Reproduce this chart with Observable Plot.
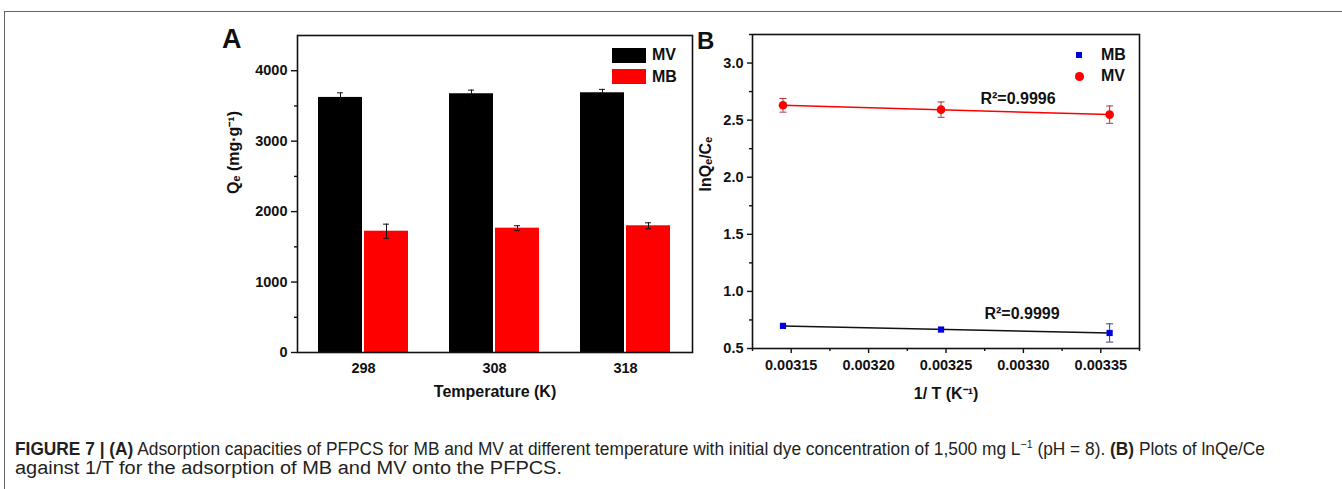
<!DOCTYPE html>
<html>
<head>
<meta charset="utf-8">
<script src="https://cdn.jsdelivr.net/npm/d3@7"></script>
<script src="https://cdn.jsdelivr.net/npm/@observablehq/plot@0.6"></script>
<style>
  html, body { margin: 0; padding: 0; background: #fff; }
  #page { position: relative; width: 1342px; height: 489px; overflow: hidden; font-family: "Liberation Sans", Arial, sans-serif; }
  #border { position: absolute; left: 4px; top: 11px; right: 0; bottom: -5px; border-top: 1px solid #666; border-left: 1px solid #666; }
  .panel { position: absolute; font-weight: bold; font-size: 26px; line-height: 26px; color: #111; }
  .leg { position: absolute; font-weight: bold; font-size: 16px; line-height: 16px; color: #111; }
  .cap { position: absolute; left: 15px; white-space: nowrap; font-family: "Liberation Sans Narrow", "Liberation Sans", Arial, sans-serif; font-size: 18px; line-height: 20px; color: #231f20; transform-origin: 0 50%; display: inline-block; }
  .cap sup { font-size: 11px; line-height: 0; vertical-align: 7px; }
</style>
</head>
<body>
<div id="page">
  <div id="border"></div>
</div>
<script>
// ---------- Data: panel A ----------
const temps = ["298", "308", "318"];
const qeMV = [3621, 3673, 3687];
const qeMVErr = [65, 52, 48];
const qeMB = [1722, 1765, 1799];
const qeMBErr = [100, 35, 42];
const qeTicks = [0, 1000, 2000, 3000, 4000];
const qeMinorTicks = [500, 1500, 2500, 3500];

// ---------- Data: panel B ----------
const invT = [0.0031447, 0.0032468, 0.0033557];
const lnMV = [2.630, 2.592, 2.548];
const lnMVErr = [0.060, 0.067, 0.076];
const lnMB = [0.698, 0.666, 0.636];
const lnMBErr = [0, 0, 0.080];
const r2MV = "R²=0.9996";
const r2MB = "R²=0.9999";
const lnTicks = [0.5, 1.0, 1.5, 2.0, 2.5, 3.0];
const lnMinorTicks = [0.75, 1.25, 1.75, 2.25, 2.75, 3.25];
const invTTicks = [0.00315, 0.0032, 0.00325, 0.0033, 0.00335];
const invTMinorTicks = [0.003125, 0.003175, 0.003225, 0.003275, 0.003325, 0.003375];

const FONT = '"Liberation Sans", Arial, sans-serif';
const TICKFS = 14.5;
const page = document.getElementById("page");

// ---------- Panel A ----------
const barsA = [];
temps.forEach((t, i) => {
  barsA.push({temp: t, series: "MV", qe: qeMV[i], err: qeMVErr[i]});
  barsA.push({temp: t, series: "MB", qe: qeMB[i], err: qeMBErr[i]});
});
const mvA = barsA.filter(d => d.series === "MV");
const mbA = barsA.filter(d => d.series === "MB");

const plotA = Plot.plot({
  width: 500, height: 390,
  marginLeft: 97, marginRight: 8, marginTop: 15, marginBottom: 58,
  style: {fontFamily: FONT, fontWeight: "bold", fontSize: "14.5px", color: "#111", background: "transparent"},
  x: {type: "band", domain: temps, paddingInner: 0.31, paddingOuter: 0.155},
  y: {domain: [0, 4500]},
  marks: [
    Plot.barY(mvA, {x: "temp", y: "qe", fill: "#000", insetRight: 46}),
    Plot.barY(mbA, {x: "temp", y: "qe", fill: "#ff0000", insetLeft: 46}),
    Plot.ruleX(mvA, {x: "temp", y1: d => d.qe - d.err, y2: d => d.qe + d.err, dx: -23, stroke: "#111", strokeWidth: 1}),
    Plot.ruleX(mbA, {x: "temp", y1: d => d.qe - d.err, y2: d => d.qe + d.err, dx: 23, stroke: "#111", strokeWidth: 1}),
    Plot.tickY(mvA, {x: "temp", y: d => d.qe + d.err, dx: -23, insetLeft: 42, insetRight: 42, stroke: "#111", strokeWidth: 1}),
    Plot.tickY(mbA, {x: "temp", y: d => d.qe + d.err, dx: 23, insetLeft: 42, insetRight: 42, stroke: "#111", strokeWidth: 1}),
    Plot.tickY(mbA, {x: "temp", y: d => d.qe - d.err, dx: 23, insetLeft: 42, insetRight: 42, stroke: "#111", strokeWidth: 1}),
    Plot.axisY(qeTicks, {tickSize: 6, tickPadding: 4, tickFormat: d3.format("d"), label: null, fontSize: TICKFS, fontWeight: "bold", strokeWidth: 1.4, stroke: "#111"}),
    Plot.axisY(qeMinorTicks, {tickSize: 3, tickFormat: () => "", label: null, strokeWidth: 1.4, stroke: "#111"}),
    Plot.axisX({tickSize: 0, tickPadding: 10, label: null, fontSize: TICKFS, fontWeight: "bold"}),
    Plot.frame({stroke: "#111", strokeWidth: 1.6}),
    Plot.text(["Temperature (K)"], {frameAnchor: "bottom", dy: 39, text: d => d, fontSize: 16, fontWeight: "bold", lineAnchor: "middle"}),
    Plot.text(["Qₑ (mg·g⁻¹)"], {frameAnchor: "left", dx: -64, rotate: -90, text: d => d, fontSize: 16, fontWeight: "bold", lineAnchor: "middle"})
  ]
});
plotA.style.position = "absolute";
plotA.style.left = "200px";
plotA.style.top = "20px";
page.appendChild(plotA);

// ---------- Panel B ----------
const ptsB = [];
invT.forEach((x, i) => {
  ptsB.push({series: "MV", x, y: lnMV[i], err: lnMVErr[i]});
  ptsB.push({series: "MB", x, y: lnMB[i], err: lnMBErr[i]});
});
const mvB = ptsB.filter(d => d.series === "MV");
const mbB = ptsB.filter(d => d.series === "MB");
const mbBErr = mbB.filter(d => d.err > 0);
const capSymbol = {draw(ctx, size) { const w = Math.sqrt(size) / 2; ctx.moveTo(-w, 0); ctx.lineTo(w, 0); }};

const plotB = Plot.plot({
  width: 460, height: 390,
  marginLeft: 62, marginRight: 11, marginTop: 14, marginBottom: 62,
  style: {fontFamily: FONT, fontWeight: "bold", fontSize: "14.5px", color: "#111", background: "transparent"},
  x: {domain: [0.003125, 0.003375]},
  y: {domain: [0.5, 3.25]},
  marks: [
    Plot.linearRegressionY(mvB, {x: "x", y: "y", stroke: "#ff0000", strokeWidth: 1.5, ci: 0}),
    Plot.linearRegressionY(mbB, {x: "x", y: "y", stroke: "#111", strokeWidth: 1.5, ci: 0}),
    Plot.ruleX(mvB, {x: "x", y1: d => d.y - d.err, y2: d => d.y + d.err, stroke: "#a8353a", strokeWidth: 1}),
    Plot.dot(mvB, {x: "x", y: d => d.y + d.err, symbol: capSymbol, r: 3.95, stroke: "#a8353a", strokeWidth: 1, fill: "none"}),
    Plot.dot(mvB, {x: "x", y: d => d.y - d.err, symbol: capSymbol, r: 3.95, stroke: "#a8353a", strokeWidth: 1, fill: "none"}),
    Plot.ruleX(mbBErr, {x: "x", y1: d => d.y - d.err, y2: d => d.y + d.err, stroke: "#3a3a8a", strokeWidth: 1}),
    Plot.dot(mbBErr, {x: "x", y: d => d.y + d.err, symbol: capSymbol, r: 3.95, stroke: "#3a3a8a", strokeWidth: 1, fill: "none"}),
    Plot.dot(mbBErr, {x: "x", y: d => d.y - d.err, symbol: capSymbol, r: 3.95, stroke: "#3a3a8a", strokeWidth: 1, fill: "none"}),
    Plot.dot(mvB, {x: "x", y: "y", r: 4.3, fill: "#ff0000", stroke: "none"}),
    Plot.dot(mbB, {x: "x", y: "y", symbol: "square", r: 3.5, fill: "#0000dd", stroke: "none"}),
    Plot.text([mvB[1]], {x: "x", y: "y", text: () => r2MV, dx: 77, dy: -11, fontSize: 16, fontWeight: "bold", fill: "#111"}),
    Plot.text([mbB[1]], {x: "x", y: "y", text: () => r2MB, dx: 81, dy: -16, fontSize: 16, fontWeight: "bold", fill: "#111"}),
    Plot.axisY(lnTicks, {tickSize: 5, tickPadding: 4, tickFormat: d3.format(".1f"), label: null, fontSize: TICKFS, fontWeight: "bold", strokeWidth: 1.4, stroke: "#111"}),
    Plot.axisY(lnMinorTicks, {tickSize: 3, tickFormat: () => "", label: null, strokeWidth: 1.4, stroke: "#111"}),
    Plot.axisX(invTTicks, {tickSize: 5, tickPadding: 6, tickFormat: d3.format(".5f"), label: null, fontSize: TICKFS, fontWeight: "bold", strokeWidth: 1.4, stroke: "#111"}),
    Plot.axisX(invTMinorTicks, {tickSize: 3, tickFormat: () => "", label: null, strokeWidth: 1.4, stroke: "#111"}),
    Plot.frame({stroke: "#111", strokeWidth: 1.6}),
    Plot.text(["1/ T (K⁻¹)"], {frameAnchor: "bottom", dy: 45, text: d => d, fontSize: 16, fontWeight: "bold", lineAnchor: "middle"}),
    Plot.text(["lnQₑ/Cₑ"], {frameAnchor: "left", dx: -47, rotate: -90, text: d => d, fontSize: 16, fontWeight: "bold", lineAnchor: "middle"})
  ]
});
plotB.style.position = "absolute";
plotB.style.left = "690px";
plotB.style.top = "20px";
page.appendChild(plotB);

// ---------- Panel letters and legends ----------
function addDiv(cls, html, css) {
  const el = document.createElement("div");
  el.className = cls;
  el.innerHTML = html;
  Object.assign(el.style, css);
  page.appendChild(el);
  return el;
}
addDiv("panel", "A", {left: "222px", top: "26px", fontSize: "27px"});
addDiv("panel", "B", {left: "697px", top: "28px", fontSize: "24px"});

// Legend A (bars)
addDiv("", "", {position: "absolute", left: "612px", top: "48px", width: "34px", height: "15px", background: "#000"});
addDiv("", "", {position: "absolute", left: "612px", top: "69px", width: "34px", height: "15px", background: "#ff0000"});
addDiv("leg", "MV", {left: "652px", top: "47px"});
addDiv("leg", "MB", {left: "652px", top: "69px"});

// Legend B (symbols)
addDiv("", "", {position: "absolute", left: "1076px", top: "52px", width: "6px", height: "6px", background: "#0000dd"});
addDiv("", "", {position: "absolute", left: "1075px", top: "72px", width: "8.5px", height: "8.5px", borderRadius: "50%", background: "#ff0000"});
addDiv("leg", "MB", {left: "1101px", top: "47px"});
addDiv("leg", "MV", {left: "1101px", top: "68px"});

// ---------- Caption ----------
const cap1 = addDiv("cap", '<b>FIGURE 7 | (A)</b> Adsorption capacities of PFPCS for MB and MV at different temperature with initial dye concentration of 1,500 mg L<sup>−1</sup> (pH = 8). <b>(B)</b> Plots of lnQe/Ce', {top: "439px"});
const cap2 = addDiv("cap", 'against 1/T for the adsorption of MB and MV onto the PFPCS.', {top: "458px"});
function fit(el, target) {
  const w = el.getBoundingClientRect().width;
  el.style.transform = `scaleX(${target / w})`;
}
fit(cap1, 1250);
fit(cap2, 547);
</script>
</body>
</html>
